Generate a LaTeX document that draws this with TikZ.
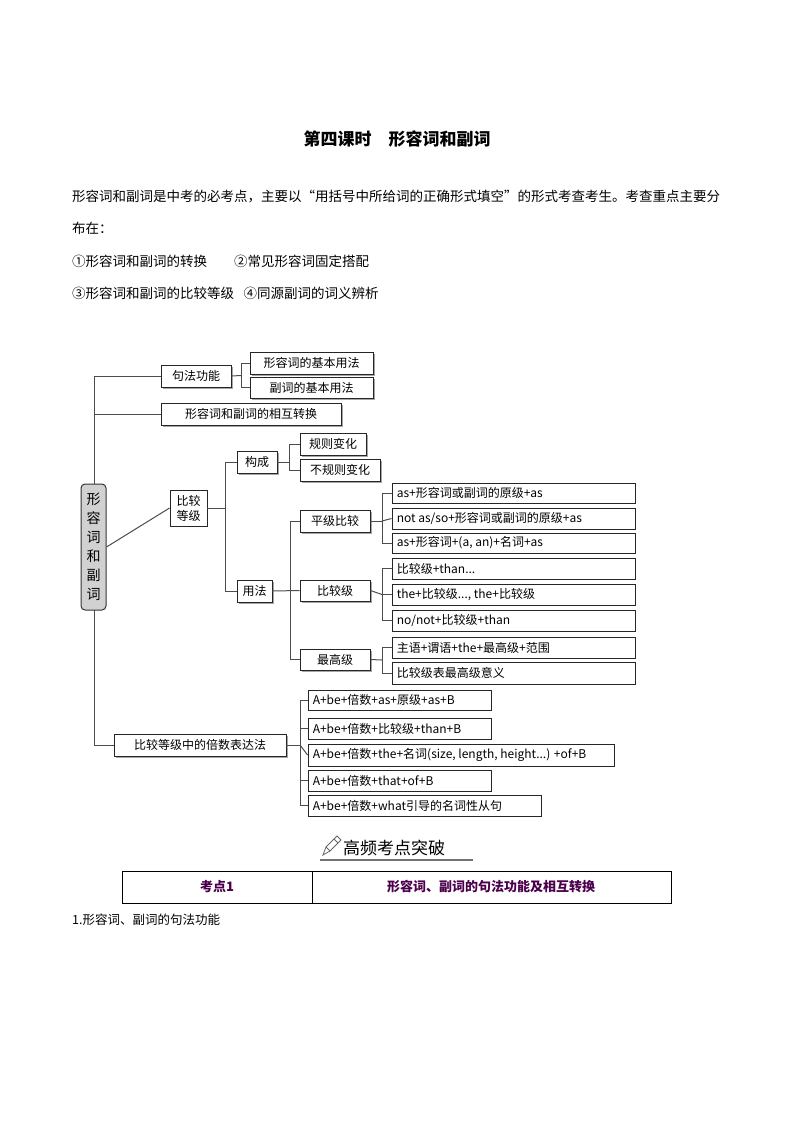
\documentclass[tikz,border=0pt]{standalone}
\usepackage{fontspec}
\setmainfont{Noto Sans CJK SC}
\usetikzlibrary{fit,calc}
\newcommand\BBx[6]{\path (#2,#4) coordinate (#1a) (#3,#5) coordinate (#1b);
  \fill[black!35] ($(#1a)+(1.5,1.5)$) rectangle ($(#1b)+(1.5,1.5)$);
  \node[bx,fit=(#1a)(#1b)] (#1) {};\node[tx] at (#1) {#6};}
\newcommand\LBx[6]{\path (#2,#4) coordinate (#1a) (#3,#5) coordinate (#1b);
  \node[bx,fit=(#1a)(#1b)] (#1) {};\node[tx,anchor=west] at ([xshift=5pt]#1.west) {#6};}
\begin{document}
\begin{tikzpicture}[x=1pt,y=-1pt,
  bx/.style={draw=black!85,line width=0.9pt,inner sep=0pt,fill=white},
  ln/.style={draw=black!70,line width=1pt},
  tx/.style={font=\fontsize{12}{14}\selectfont,inner sep=0pt},
  pt/.style={font=\fontsize{13.5}{16}\selectfont,anchor=west,inner sep=0pt}]
\useasboundingbox (0,0) rectangle (794,1123);
% title and text
\node[font=\fontsize{17}{20}\selectfont\bfseries,inner sep=0pt] (title) at (397,139) {第四课时\quad 形容词和副词};
\node[pt] (p1) at (72,197) {形容词和副词是中考的必考点，主要以“用括号中所给词的正确形式填空”的形式考查考生。考查重点主要分};
\node[pt] (p2) at (72,228) {布在：};
\node[pt] (p3) at (72,261) {①形容词和副词的转换\hspace{2em}②常见形容词固定搭配};
\node[pt] (p4) at (72,293) {③形容词和副词的比较等级\hspace{0.7em}④同源副词的词义辨析};
% trunk
\coordinate (t0) at (94,376); \coordinate (t1) at (94,414); \coordinate (t5) at (94,745);
\draw[ln] (t0) -- (t5);
% root
\node[draw=black!80,line width=1pt,fill=black!18,rounded corners=4pt,minimum width=25pt,minimum height=126pt,inner sep=0pt,align=center,font=\fontsize{14}{19}\selectfont] (root) at (93.5,547) {形\\容\\词\\和\\副\\词};
% level 1
\BBx{sf}{161}{231}{365}{387}{句法功能}
\BBx{hz}{161}{341}{403}{425}{形容词和副词的相互转换}
\node[bx,minimum width=37pt,minimum height=36pt,align=center,font=\fontsize{12}{15}\selectfont] (bj) at (188.5,508) {比较\\等级};
\BBx{bs}{114}{286}{734}{756}{比较等级中的倍数表达法}
\draw[ln] (t0) -- (sf.west); \draw[ln] (t1) -- (hz.west);
\draw[ln] (root.east) -- (bj.west); \draw[ln] (t5) -- (bs.west);
% sf children
\BBx{a1}{250}{373}{352}{374}{形容词的基本用法}
\BBx{a2}{250}{373}{377}{398}{副词的基本用法}
\coordinate (j1) at (241,375.5);
\draw[ln] (sf.east) -- (j1); \draw[ln] (j1) |- (a1.west); \draw[ln] (j1) |- (a2.west);
% bj children
\BBx{gc}{237}{277}{451}{473}{构成}
\BBx{yf}{237}{272}{580}{602}{用法}
\coordinate (j2) at (225,508);
\draw[ln] (bj.east) -- (j2); \draw[ln] (j2) |- (gc.west); \draw[ln] (j2) |- (yf.west);
\BBx{g1}{300}{366}{433}{455}{规则变化}
\BBx{g2}{300}{380}{459}{481}{不规则变化}
\coordinate (j3) at (289,462);
\draw[ln] (gc.east) -- (j3); \draw[ln] (j3) |- (g1.west); \draw[ln] (j3) |- (g2.west);
\BBx{u1}{300}{370}{510}{532}{平级比较}
\BBx{u2}{300}{370}{580}{601}{比较级}
\BBx{u3}{300}{370}{649}{670}{最高级}
\coordinate (j4) at (290,591);
\draw[ln] (yf.east) -- (u2.west); \draw[ln] (j4) |- (u1.west); \draw[ln] (j4) |- (u3.west);
% leaves
\LBx{e1}{392}{635}{483}{503}{as+形容词或副词的原级+as}
\LBx{e2}{392}{635}{508}{529}{not as/so+形容词或副词的原级+as}
\LBx{e3}{392}{635}{533}{553}{as+形容词+(a, an)+名词+as}
\coordinate (j5) at (382,521);
\draw[ln] (u1.east) -- (j5); \draw[ln] (j5) |- (e1.west); \draw[ln] (j5) -- (e2.west); \draw[ln] (j5) |- (e3.west);
\LBx{c1}{392}{635}{558}{579}{比较级+than...}
\LBx{c2}{392}{635}{584}{605}{the+比较级..., the+比较级}
\LBx{c3}{392}{635}{610}{631}{no/not+比较级+than}
\coordinate (j6) at (382,594.5);
\draw[ln] (u2.east) -- (j6); \draw[ln] (j6) |- (c1.west); \draw[ln] (j6) -- (c2.west); \draw[ln] (j6) |- (c3.west);
\LBx{s1}{392}{635}{637}{658}{主语+谓语+the+最高级+范围}
\LBx{s2}{392}{635}{662}{684}{比较级表最高级意义}
\coordinate (j7) at (382,660);
\draw[ln] (u3.east) -- (j7); \draw[ln] (j7) |- (s1.west); \draw[ln] (j7) |- (s2.west);
\LBx{b1}{308}{491}{690}{710}{A+be+倍数+as+原级+as+B}
\LBx{b2}{308}{491}{718}{739}{A+be+倍数+比较级+than+B}
\LBx{b3}{308}{614}{744}{766}{A+be+倍数+the+名词(size, length, height...) +of+B}
\LBx{b4}{308}{491}{770}{791}{A+be+倍数+that+of+B}
\LBx{b5}{308}{541}{795}{816}{A+be+倍数+what引导的名词性从句}
\coordinate (j8) at (300,745);
\draw[ln] (bs.east) -- (j8); \draw[ln] (j8) |- (b1.west); \draw[ln] (j8) -- (b3.west);
\draw[ln] (j8) |- (b2.west); \draw[ln] (j8) |- (b4.west); \draw[ln] (j8) |- (b5.west);
% heading
\node[font=\fontsize{17}{20}\selectfont,anchor=west,inner sep=0pt] (hd) at (343,848) {高频考点突破};
\draw[black!55,line width=1.2pt] (320,860) -- (473,860);
\draw[black!60,line width=0.8pt] (323,855) -- (326,847) -- (337,836) -- (341,840) -- (330,851) -- cycle;
\draw[black!60,line width=0.8pt] (326,847) -- (330,851) (334,839) -- (338,843);
% table
\draw[black,line width=0.9pt] (122,871) rectangle (671,903);
\draw[black,line width=0.9pt] (312,871) -- (312,903);
\node[font=\fontsize{13}{15}\selectfont\bfseries,text=violet!60!black,inner sep=0pt] (k1) at (217,887) {考点1};
\node[font=\fontsize{13}{15}\selectfont\bfseries,text=violet!60!black,inner sep=0pt] (k2) at (491,887) {形容词、副词的句法功能及相互转换};
\node[font=\fontsize{12.5}{15}\selectfont,anchor=west,inner sep=0pt] (s1t) at (72,920) {1.形容词、副词的句法功能};
\end{tikzpicture}
\end{document}
